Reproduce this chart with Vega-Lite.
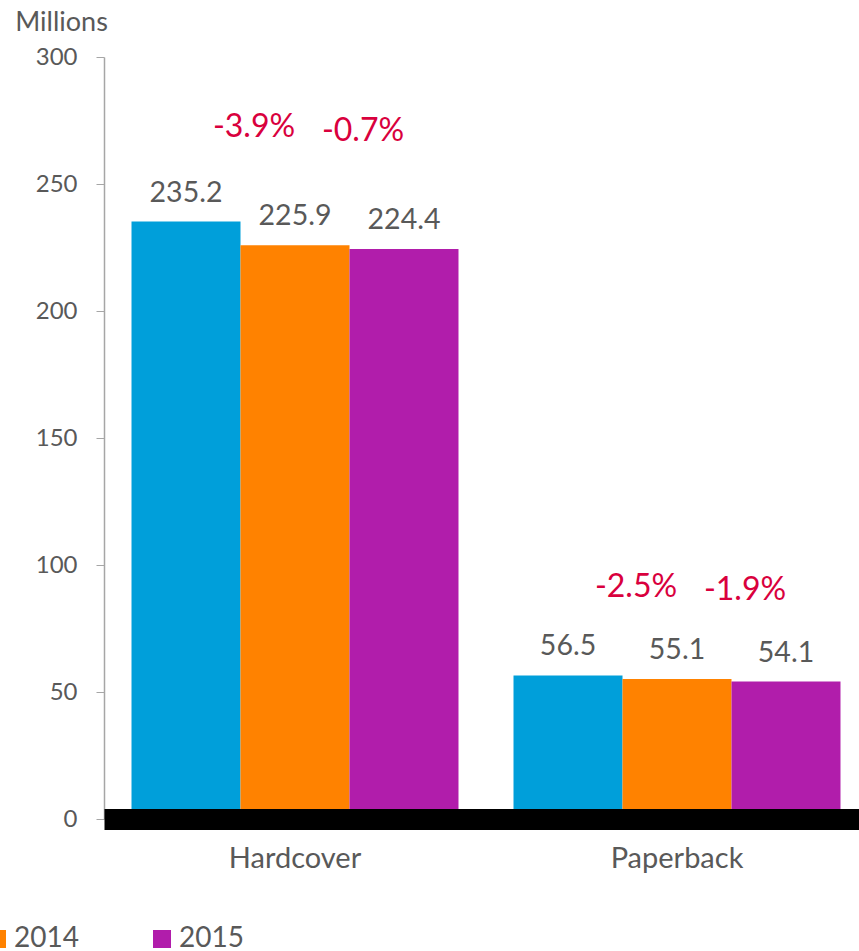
{
  "$schema": "https://vega.github.io/schema/vega-lite/v6.json",
  "width": 764,
  "height": 762,
  "autosize": {"type": "none"},
  "padding": {"left": 104, "top": 57, "right": 0, "bottom": 132},
  "background": "white",
  "config": {
    "view": {"stroke": null},
    "font": "Lato",
    "axis": {"labelFont": "Lato", "titleFont": "Lato"},
    "legend": {"labelFont": "Lato"}
  },
  "data": {
    "values": [
      {"category": "Hardcover", "year": "2013", "value": 235.2, "change": null},
      {"category": "Hardcover", "year": "2014", "value": 225.9, "change": "-3.9%"},
      {"category": "Hardcover", "year": "2015", "value": 224.4, "change": "-0.7%"},
      {"category": "Paperback", "year": "2013", "value": 56.5, "change": null},
      {"category": "Paperback", "year": "2014", "value": 55.1, "change": "-2.5%"},
      {"category": "Paperback", "year": "2015", "value": 54.1, "change": "-1.9%"}
    ]
  },
  "encoding": {
    "x": {
      "field": "category",
      "type": "nominal",
      "scale": {"paddingInner": 0.144, "paddingOuter": 0.072},
      "axis": {
        "title": null,
        "labelAngle": 0,
        "labelFontSize": 29,
        "labelColor": "#595959",
        "labelPadding": 25,
        "ticks": false,
        "domainColor": "#000000",
        "domainWidth": 21,
        "zindex": 1
      }
    },
    "xOffset": {"field": "year", "type": "nominal", "scale": {"paddingInner": 0, "paddingOuter": 0}},
    "y": {
      "field": "value",
      "type": "quantitative",
      "scale": {"domain": [0, 300]},
      "axis": {
        "values": [0, 50, 100, 150, 200, 250, 300],
        "grid": false,
        "title": "Millions",
        "titleAngle": 0,
        "titleAlign": "center",
        "titleBaseline": "middle",
        "titleX": -43,
        "titleY": -35,
        "titleFontSize": 27,
        "titleFontWeight": "normal",
        "titleColor": "#595959",
        "labelFontSize": 24,
        "labelColor": "#595959",
        "labelPadding": 19,
        "tickSize": 8,
        "tickColor": "#a6a6a6",
        "domainColor": "#a6a6a6",
        "domainWidth": 1.5
      }
    }
  },
  "layer": [
    {
      "mark": {"type": "bar"},
      "encoding": {
        "color": {
          "field": "year",
          "type": "nominal",
          "scale": {"domain": ["2013", "2014", "2015"], "range": ["#009FDA", "#FF8200", "#B11DAB"]},
          "legend": {
            "title": null,
            "orient": "none",
            "direction": "horizontal",
            "legendX": -286,
            "legendY": 868,
            "padding": 0,
            "symbolType": "square",
            "symbolSize": 324,
            "symbolStrokeWidth": 0,
            "labelFontSize": 28,
            "labelColor": "#595959",
            "labelOffset": 3,
            "columnPadding": 69,
            "gridAlign": "all"
          }
        }
      }
    },
    {
      "mark": {"type": "text", "baseline": "alphabetic", "dy": -20, "fontSize": 28.5, "color": "#595959"},
      "encoding": {"text": {"field": "value", "type": "quantitative", "format": ".1f"}}
    },
    {
      "transform": [{"filter": "datum.change != null && datum.category == 'Hardcover'"}],
      "mark": {"type": "text", "baseline": "alphabetic", "dy": -108, "dx": -41, "fontSize": 32, "color": "#D9003D"},
      "encoding": {"text": {"field": "change", "type": "nominal"}}
    },
    {
      "transform": [{"filter": "datum.change != null && datum.category == 'Paperback'"}],
      "mark": {"type": "text", "baseline": "alphabetic", "dy": -82, "dx": -41, "fontSize": 32, "color": "#D9003D"},
      "encoding": {"text": {"field": "change", "type": "nominal"}}
    }
  ]
}
